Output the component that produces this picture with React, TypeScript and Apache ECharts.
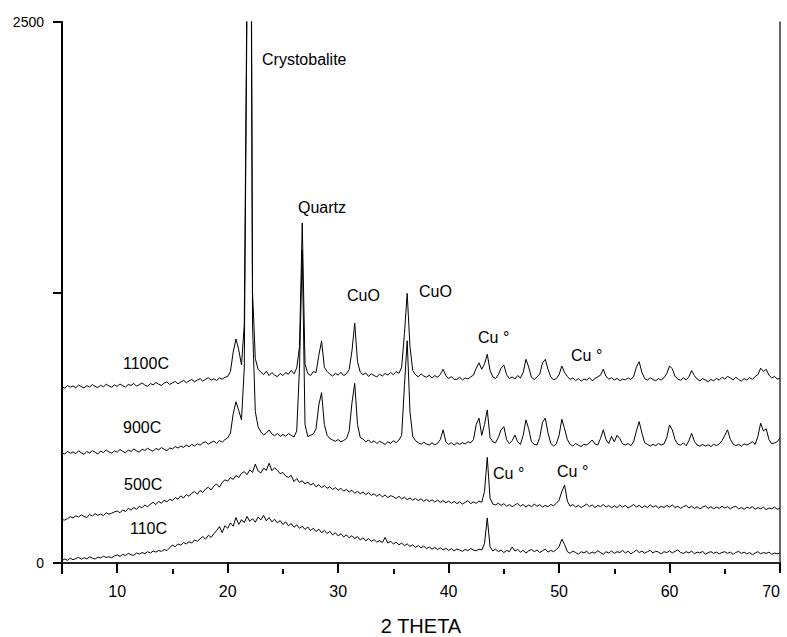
import React, { useEffect, useRef } from "react";
import * as echarts from "echarts";

// 2θ sampling of the patterns
const X_START = 5;
const X_STEP = 0.25;

// Intensities, one value per 0.25° from 5° to 70°
const s1100 = [
  815, 808, 820, 812, 818, 810, 822, 815, 809, 819, 813, 824, 816, 811, 821, 814, 826, 818, 812, 823,
  816, 827, 819, 813, 825, 820, 830, 817, 824, 832, 822, 816, 829, 823, 834, 826, 820, 831, 836, 825,
  832, 839, 828, 836, 844, 833, 841, 848, 837, 845, 852, 840, 849, 856, 845, 851, 843, 855, 849, 858,
  862, 885, 975, 1035, 985, 915, 1100, 2700, 4800, 1250, 945, 895, 882, 870, 886, 866, 880, 868, 861, 876,
  866, 880, 872, 890, 874, 900, 1000, 1571, 920, 875, 866, 884, 880, 960, 1025, 905, 885, 872, 864, 876,
  868, 881, 866, 874, 895, 980, 1108, 930, 882, 870, 878, 862, 874, 866, 860, 872, 864, 876, 868, 880,
  870, 884, 876, 905, 1060, 1246, 1000, 890, 870, 860, 874, 864, 858, 868, 855, 866, 858, 872, 895, 866,
  852, 861, 848, 849, 858, 846, 855, 850, 860, 868, 900, 925, 895, 920, 964, 890, 860, 852, 870, 900,
  915, 870, 852, 860, 850, 866, 855, 880, 941, 905, 858, 848, 860, 872, 925, 941, 895, 860, 846, 852,
  870, 910, 880, 862, 848, 855, 843, 852, 840, 850, 845, 856, 842, 852, 860, 868, 895, 862, 850, 856,
  845, 853, 842, 850, 846, 855, 848, 862, 905, 930, 880, 852, 845, 856, 848, 842, 852, 845, 856, 875,
  910, 898, 862, 850, 844, 855, 846, 860, 889, 866, 850, 842, 852, 845, 838, 848, 842, 853, 845, 858,
  850, 862, 855, 846, 858, 848, 840, 852, 845, 857, 848, 862, 870, 900, 885, 895, 868, 855, 862, 850,
  853,
];

const s900 = [
  510, 503, 516, 507, 513, 505, 518, 509, 502, 515, 508, 519, 511, 504, 517, 510, 522, 513, 507, 518,
  512, 524, 516, 509, 522, 515, 527, 518, 512, 526, 520, 530, 522, 516, 529, 523, 533, 525, 519, 531,
  527, 538, 531, 540, 534, 545, 537, 548, 540, 551, 544, 555, 560, 549, 557, 563, 552, 566, 558, 570,
  578, 600, 690, 745, 705, 661, 900, 2600, 4500, 1100, 700, 630, 605, 592, 600, 615, 596, 588, 598, 585,
  594, 586, 598, 590, 582, 610, 900, 1446, 640, 584, 590, 596, 620, 730, 787, 640, 590, 575, 568, 562,
  570, 560, 566, 575, 610, 740, 830, 640, 580, 572, 560, 568, 555, 565, 552, 562, 556, 548, 560, 552,
  565, 556, 568, 590, 820, 1027, 700, 585, 565, 556, 548, 558, 550, 545, 555, 546, 553, 570, 615, 560,
  548, 556, 545, 555, 548, 556, 550, 560, 555, 570, 640, 669, 590, 640, 707, 580, 560, 555, 580, 615,
  630, 570, 552, 565, 591, 560, 548, 590, 661, 620, 560, 548, 545, 580, 650, 669, 600, 552, 541, 550,
  590, 664, 620, 570, 548, 540, 552, 544, 538, 548, 545, 555, 568, 550, 545, 575, 615, 570, 552, 585,
  560, 590, 575, 550, 545, 552, 542, 560, 610, 653, 600, 555, 548, 540, 548, 542, 552, 545, 550, 580,
  638, 615, 570, 548, 545, 555, 542, 565, 599, 562, 545, 540, 548, 540, 546, 538, 548, 542, 550, 565,
  590, 615, 572, 550, 542, 548, 540, 550, 545, 552, 560, 548, 585, 646, 610, 620, 570, 550, 555, 560,
  578,
];

const s500 = [
  200, 198, 205, 214, 208, 218, 212, 222, 215, 210, 224, 217, 228, 220, 226, 219, 232, 225, 230, 236,
  240, 232, 245, 238, 252, 244, 256, 248, 262, 255, 268, 259, 272, 280, 270, 284, 276, 290, 282, 295,
  288, 302, 295, 310, 300, 316, 308, 322, 330, 318, 335, 326, 342, 350, 338, 356, 365, 350, 372, 384,
  378, 395, 386, 404, 395, 414, 422, 408, 430, 418, 457, 425, 416, 438, 428, 461, 426, 440, 428, 412,
  418, 402, 395, 405, 376, 390, 372, 380, 365, 374, 360, 368, 352, 362, 348, 358, 345, 352, 340, 348,
  336, 345, 332, 340, 328, 336, 322, 331, 320, 328, 316, 325, 312, 320, 308, 318, 305, 314, 302, 311,
  306, 298, 308, 296, 304, 292, 300, 290, 298, 288, 296, 285, 293, 284, 292, 282, 290, 280, 288, 278,
  286, 276, 284, 274, 282, 272, 280, 288, 274, 282, 276, 286, 280, 330, 488, 300, 272, 268, 276, 266,
  274, 262, 270, 260, 268, 275, 262, 270, 258, 268, 260, 272, 262, 270, 258, 266, 260, 270, 264, 276,
  290, 330, 360, 285, 262, 270, 258, 266, 256, 264, 272, 260, 268, 256, 266, 260, 270, 258, 265, 255,
  264, 256, 268, 258, 266, 254, 262, 270, 258, 266, 255, 264, 256, 268, 258, 265, 254, 262, 256, 266,
  258, 268, 256, 262, 252, 260, 266, 254, 262, 252, 260, 250, 258, 264, 252, 260, 250, 258, 252, 262,
  254, 260, 250, 258, 262, 250, 256, 248, 258, 252, 260, 248, 256, 250, 258, 246, 254, 250, 258, 248,
  253,
];

const s110 = [
  11, 18, 12, 22, 15, 20, 26, 17, 24, 19, 28, 22, 18, 27, 23, 31, 25, 29, 24, 33,
  37, 30, 40, 34, 44, 38, 35, 46, 41, 48, 43, 52, 46, 55, 50, 58, 53, 62, 57, 70,
  83, 75, 88, 82, 94, 88, 98, 92, 106, 100, 112, 122, 110, 128, 118, 135, 150, 168, 140, 172,
  160, 185, 170, 210, 178, 200, 186, 215, 192, 205, 188, 212, 199, 220, 195, 210, 190, 202, 185, 196,
  178, 190, 172, 182, 165, 176, 160, 170, 155, 166, 150, 160, 145, 156, 140, 150, 136, 146, 130, 140,
  125, 135, 120, 130, 116, 126, 112, 122, 106, 116, 102, 112, 100, 108, 96, 104, 94, 118, 92, 100,
  88, 96, 84, 92, 80, 88, 76, 84, 72, 80, 70, 78, 66, 74, 64, 72, 62, 70, 60, 68,
  58, 66, 56, 64, 60, 54, 62, 58, 66, 60, 56, 64, 60, 90, 208, 75, 55, 64, 52, 60,
  48, 58, 52, 74, 55, 62, 50, 58, 46, 56, 62, 52, 60, 48, 56, 64, 50, 58, 52, 62,
  75, 110, 85, 52, 45, 55, 48, 40, 52, 46, 54, 42, 50, 45, 56, 48, 40, 52, 46, 55,
  44, 52, 48, 58, 46, 54, 42, 50, 60, 48, 55, 45, 52, 58, 46, 54, 50, 42, 52, 48,
  56, 46, 54, 60, 48, 44, 52, 46, 55, 42, 50, 46, 54, 40, 48, 52, 44, 50, 42, 48,
  52, 44, 50, 40, 48, 54, 44, 50, 42, 48, 38, 46, 52, 42, 48, 44, 50, 40, 46, 42,
  46,
];

const xMajorTicks = [10, 20, 30, 40, 50, 60, 70];
const xMinorTicks = [5, 15, 25, 35, 45, 55, 65];
const yTicks = [0, 1250, 2500];
const yLabels = [0, 2500];

const FONT = "'Liberation Sans', Arial, Helvetica, sans-serif";
const W = 787;
const H = 637;

const toPairs = (vals: number[]) => vals.map((v, i) => [X_START + i * X_STEP, v]);

export default function App() {
  const ref = useRef<HTMLDivElement>(null);

  useEffect(() => {
    if (!ref.current) return;
    const chart = echarts.init(ref.current, undefined, { renderer: "svg", width: W, height: H });

    const mkText = (text: string, x: number, y: number, size = 16, align = "left") => ({
      type: "text",
      x,
      y,
      style: {
        text,
        fill: "#000",
        font: `${size}px ${FONT}`,
        align,
        verticalAlign: "middle",
      },
    });

    const lineSeries = (name: string, vals: number[]) => ({
      name,
      type: "line",
      data: toPairs(vals),
      showSymbol: false,
      symbol: "none",
      clip: true,
      lineStyle: { color: "#000", width: 1 },
      xAxisIndex: 0,
      yAxisIndex: 0,
    });

    chart.setOption({
      animation: false,
      backgroundColor: "#fff",
      grid: { left: 62, right: 7, top: 22, bottom: 68, outerBoundsMode: "none", containLabel: false },
      xAxis: [
        {
          type: "value",
          min: 5,
          max: 70,
          position: "bottom",
          axisLine: { show: true, lineStyle: { color: "#000", width: 2 } },
          axisTick: {
            show: true,
            customValues: xMajorTicks,
            length: 10,
            inside: false,
            lineStyle: { color: "#000", width: 2 },
          },
          axisLabel: {
            show: true,
            customValues: xMajorTicks,
            formatter: (v: number) => String(v),
            alignMaxLabel: "right",
            margin: 14,
            color: "#000",
            fontSize: 16,
            fontFamily: FONT,
          },
          splitLine: { show: false },
        },
        {
          type: "value",
          min: 5,
          max: 70,
          position: "top",
          axisLine: { show: true, lineStyle: { color: "#333", width: 1.5 } },
          axisTick: { show: false },
          axisLabel: { show: false },
          splitLine: { show: false },
        },
        {
          type: "value",
          min: 5,
          max: 70,
          position: "bottom",
          axisLine: { show: false },
          axisTick: {
            show: true,
            customValues: xMinorTicks,
            length: 5,
            inside: false,
            lineStyle: { color: "#000", width: 2 },
          },
          axisLabel: { show: false },
          splitLine: { show: false },
        },
      ],
      yAxis: [
        {
          type: "value",
          min: -28,
          max: 2500,
          position: "left",
          axisLine: { show: true, lineStyle: { color: "#000", width: 2 } },
          axisTick: {
            show: true,
            customValues: yTicks,
            length: 9,
            inside: false,
            lineStyle: { color: "#000", width: 2 },
          },
          axisLabel: {
            show: true,
            customValues: yLabels,
            formatter: (v: number) => String(v),
            margin: 18,
            color: "#000",
            fontSize: 14,
            fontFamily: FONT,
          },
          splitLine: { show: false },
        },
        {
          type: "value",
          min: -28,
          max: 2500,
          position: "right",
          axisLine: { show: true, lineStyle: { color: "#333", width: 1.5 } },
          axisTick: { show: false },
          axisLabel: { show: false },
          splitLine: { show: false },
        },
      ],
      series: [
        lineSeries("1100C", s1100),
        lineSeries("900C", s900),
        lineSeries("500C", s500),
        lineSeries("110C", s110),
      ],
      graphic: [
        mkText("Crystobalite", 262, 59),
        mkText("Quartz", 298, 207),
        mkText("CuO", 347, 295),
        mkText("CuO", 419, 291),
        mkText("Cu °", 478, 337),
        mkText("Cu °", 571, 355),
        mkText("Cu °", 493, 473),
        mkText("Cu °", 557, 471),
        mkText("1100C", 123, 363),
        mkText("900C", 123, 427),
        mkText("500C", 124, 484),
        mkText("110C", 130, 528),
        mkText("2 THETA", 421, 626, 20, "center"),
      ],
    });

    return () => chart.dispose();
  }, []);

  return (
    <div
      ref={ref}
      style={{ position: "fixed", left: 0, top: 0, width: W, height: H, background: "#fff" }}
    />
  );
}
